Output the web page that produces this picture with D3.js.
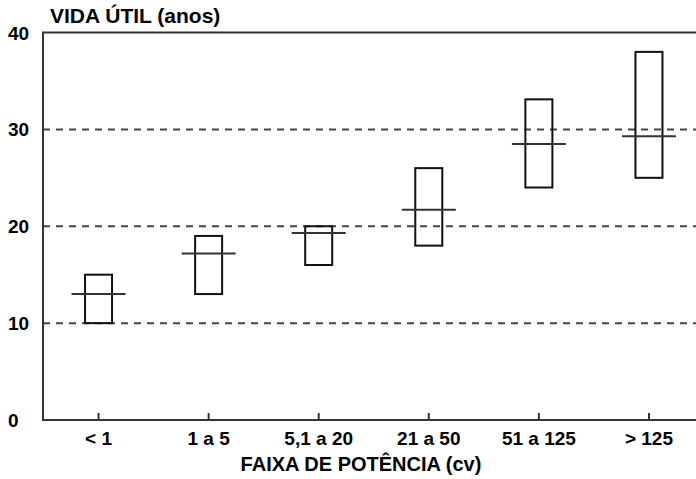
<!DOCTYPE html>
<html>
<head>
<meta charset="utf-8">
<script src="https://cdn.jsdelivr.net/npm/d3@7"></script>
<style>
  html, body { margin: 0; padding: 0; background: #fff; }
  svg { display: block; }
  text { font-family: "Liberation Sans", Arial, sans-serif; font-weight: bold; fill: #000; }
</style>
</head>
<body>
<div id="chart"></div>
<script>
// ===== Data =====
const categories = ["< 1", "1 a 5", "5,1 a 20", "21 a 50", "51 a 125", "> 125"];
const lowValues = [10, 13, 16, 18, 24, 25];
const highValues = [15, 19, 20, 26, 33.1, 38];
const medianValues = [13, 17.2, 19.3, 21.7, 28.5, 29.3];
const yTicks = [0, 10, 20, 30, 40];
const gridValues = [10, 20, 30];

const yTitle = "VIDA ÚTIL (anos)";
const xTitle = "FAIXA DE POTÊNCIA (cv)";

// ===== SVG config =====
const W = 696;
const H = 479;
const M = { top: 32.5, right: -7.5, bottom: 59, left: 43 };

const svg = d3.select("#chart").append("svg")
  .attr("width", W)
  .attr("height", H);

const innerW = W - M.left - M.right;
const innerH = H - M.top - M.bottom;

const g = svg.append("g").attr("transform", `translate(${M.left},${M.top})`);

const x = d3.scaleBand()
  .domain(categories)
  .range([0.5, innerW + 0.5])
  .padding(0);

const y = d3.scaleLinear()
  .domain([0, 40])
  .range([innerH, 0]);

const rows = categories.map((c, i) => ({
  cat: c, low: lowValues[i], high: highValues[i], med: medianValues[i]
}));

// gridlines (dashed)
g.selectAll(".grid")
  .data(gridValues)
  .enter()
  .append("line")
  .attr("class", "grid")
  .attr("x1", 0).attr("x2", innerW)
  .attr("y1", d => y(d)).attr("y2", d => y(d))
  .attr("stroke", "#444")
  .attr("stroke-width", 2)
  .attr("stroke-dasharray", "7,6");

// frame
g.append("rect")
  .attr("x", 0).attr("y", 0)
  .attr("width", innerW).attr("height", innerH)
  .attr("fill", "none")
  .attr("stroke", "#333")
  .attr("stroke-width", 2);

// x ticks (inward)
g.selectAll(".xtick")
  .data(categories)
  .enter()
  .append("line")
  .attr("class", "xtick")
  .attr("x1", d => x(d) + x.bandwidth() / 2)
  .attr("x2", d => x(d) + x.bandwidth() / 2)
  .attr("y1", innerH).attr("y2", innerH - 7)
  .attr("stroke", "#333")
  .attr("stroke-width", 2);

// x tick labels
g.selectAll(".xlabel")
  .data(categories)
  .enter()
  .append("text")
  .attr("class", "xlabel")
  .attr("x", d => x(d) + x.bandwidth() / 2)
  .attr("y", innerH + 25)
  .attr("text-anchor", "middle")
  .style("font-size", "19px")
  .text(d => d);

// y tick labels (left aligned)
svg.selectAll(".ylabel")
  .data(yTicks)
  .enter()
  .append("text")
  .attr("class", "ylabel")
  .attr("x", 8)
  .attr("y", d => M.top + y(d) + 7)
  .style("font-size", "19px")
  .text(d => d);

// boxes
const bw = 27;
const mw = 54;

const boxG = g.selectAll(".boxg")
  .data(rows, d => d.cat)
  .enter()
  .append("g")
  .attr("class", "boxg")
  .attr("transform", d => `translate(${x(d.cat) + x.bandwidth() / 2},0)`);

boxG.append("rect")
  .attr("x", -bw / 2)
  .attr("width", bw)
  .attr("y", d => y(d.high))
  .attr("height", d => y(d.low) - y(d.high))
  .attr("fill", "none")
  .attr("stroke", "#111")
  .attr("stroke-width", 2);

boxG.append("line")
  .attr("x1", -mw / 2).attr("x2", mw / 2)
  .attr("y1", d => y(d.med)).attr("y2", d => y(d.med))
  .attr("stroke", "#333")
  .attr("stroke-width", 2);

// titles
svg.append("text")
  .attr("x", 50)
  .attr("y", 23)
  .style("font-size", "21px")
  .text(yTitle);

svg.append("text")
  .attr("x", 361)
  .attr("y", 471)
  .attr("text-anchor", "middle")
  .style("font-size", "20px")
  .text(xTitle);
</script>
</body>
</html>
